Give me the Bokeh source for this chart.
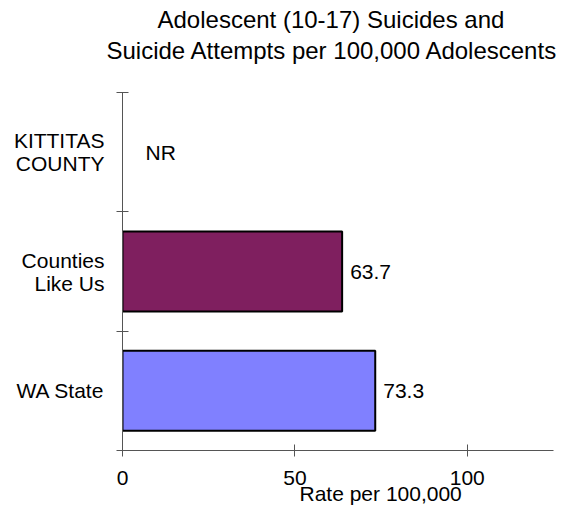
from bokeh.plotting import figure
from bokeh.models import (Range1d, LinearAxis, FixedTicker, Title, ColumnDataSource)
from bokeh.core.properties import value
from bokeh.embed import file_html
from bokeh.resources import INLINE

categories = ["KITTITAS COUNTY", "Counties Like Us", "WA State"]
display_labels = ["KITTITAS\nCOUNTY", "Counties\nLike Us", "WA State"]
rates = [None, 63.7, 73.3]
rate_labels = ["NR", "63.7", "73.3"]
bar_colors = ["#FFFFFF", "#7F1F5F", "#8080FF"]
x_ticks = [0, 50, 100]

FONT = "Liberation Sans"
n = len(categories)
# category i drawn top to bottom: center position
ypos = [n - i - 0.5 for i in range(n)]

p = figure(width=562, height=511, y_range=Range1d(0, n),
           x_range=Range1d(0, 125), output_backend="svg", toolbar_location=None,
           x_axis_location=None, y_axis_location=None,
           min_border_left=122, min_border_top=92, min_border_bottom=61,
           min_border_right=9)
p.outline_line_color = None
p.xgrid.visible = False
p.ygrid.visible = False

# bars
by = [y for y, r in zip(ypos, rates) if r is not None]
br = [r for r in rates if r is not None]
bc = [col for col, r in zip(bar_colors, rates) if r is not None]
src = ColumnDataSource(dict(y=by, rate=br, color=bc))
p.hbar(y="y", left=0, right="rate", height=0.67, fill_color="color",
       line_color="black", line_width=2, source=src)

# value labels
lx = [r if r is not None else 0 for r in rates]
loff = [8 if r is not None else 23 for r in rates]
lsrc = ColumnDataSource(dict(y=ypos, x=lx, t=rate_labels, off=loff))
p.text(x="x", y="y", text="t", x_offset="off", source=lsrc,
       text_font=value(FONT), text_font_size="21px", text_baseline="middle",
       text_align="left", text_color="black")

# separator axis (left)
sep_ticks = list(range(n + 1))
sep_axis = LinearAxis(ticker=FixedTicker(ticks=sep_ticks),
                      major_label_overrides={i: "" for i in sep_ticks},
                      major_tick_in=6, major_tick_out=6, minor_tick_line_color=None,
                      axis_line_color="#555555", major_tick_line_color="#555555",
                      major_label_standoff=0, major_label_text_font_size="1px")
p.add_layout(sep_axis, "left")

cat_axis = LinearAxis(ticker=FixedTicker(ticks=ypos), axis_line_color=None,
                      major_tick_line_color=None, minor_tick_line_color=None,
                      major_tick_in=0, major_tick_out=0, major_label_standoff=12,
                      major_label_overrides=dict(zip(ypos, display_labels)),
                      major_label_text_font=FONT, major_label_text_font_size="21px",
                      major_label_text_line_height=1.0,
                      major_label_text_color="black")
p.add_layout(cat_axis, "left")

xaxis = LinearAxis(ticker=FixedTicker(ticks=x_ticks), major_tick_in=6, major_tick_out=6,
                   minor_tick_line_color=None, axis_line_color="#555555",
                   major_tick_line_color="#555555", major_label_standoff=14,
                   major_label_text_font=FONT, major_label_text_font_size="21px",
                   major_label_text_color="black")
p.add_layout(xaxis, "below")

xt = Title(text="Rate per 100,000", align="left", offset=177, text_font=FONT,
           text_font_size="21px", text_font_style="normal", text_color="black",
           standoff=-16)
p.add_layout(xt, "below")

spacer = Title(text=" ", text_font_size="1px", standoff=26)
t2 = Title(text="Suicide Attempts per 100,000 Adolescents", align="left", offset=-16,
           text_font=FONT, text_font_size="24px", text_font_style="normal",
           text_color="black", standoff=0)
t1 = Title(text="Adolescent (10-17) Suicides and", align="left", offset=35,
           text_font=FONT, text_font_size="24px", text_font_style="normal",
           text_color="black", standoff=4)
p.add_layout(spacer, "above")
p.add_layout(t2, "above")
p.add_layout(t1, "above")

open("out.html", "w").write(file_html(p, INLINE))
